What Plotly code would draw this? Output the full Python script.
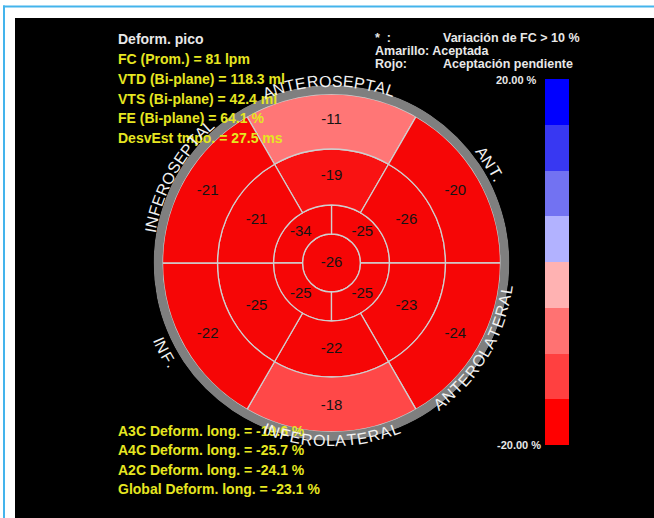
import math
import plotly.graph_objects as go

W, H = 654, 518
CX, CY = 331.5, 263.0          # bullseye centre (px)

# ---------------- data ----------------
apex_value = -26
apical_theta = [45, 135, 225, 315]
apical_values = [-25, -34, -25, -25]
ring_theta = [90, 30, 330, 270, 210, 150]
mid_values = [-19, -26, -23, -22, -25, -21]
basal_values = [-11, -20, -24, -18, -22, -21]

wall_names = ["ANTEROSEPTAL", "ANT.", "ANTEROLATERAL", "INFEROLATERAL", "INF.", "INFEROSEPTAL"]
wall_angles = [90.8, 32.0, -30.6, 270.0, 208.0, 150.4]
wall_upper = [True, True, False, False, False, True]

info_title = "Deform. pico"
info_lines = ["FC (Prom.) = 81 lpm", "VTD (Bi-plane) = 118.3 ml", "VTS (Bi-plane) = 42.4 ml",
              "FE (Bi-plane) = 64.1 %", "DesvEst tmpo. = 27.5 ms"]
strain_lines = ["A3C Deform. long. = -19.6 %", "A4C Deform. long. = -25.7 %",
                "A2C Deform. long. = -24.1 %", "Global Deform. long. = -23.1 %"]
legend_keys = ["*  :", "Amarillo: Aceptada", "Rojo:"]
legend_values = ["Variación de FC > 10 %", "", "Aceptación pendiente"]

scale_min, scale_max = -20, 20
scale_labels = ["20.00 %", "-20.00 %"]
scale_colors = ["#ff0000", "#ff4040", "#ff7272", "#ffb2b2",
                "#b2b2ff", "#7272f2", "#3838f2", "#0000ff"]

# ---------------- geometry / style ----------------
R_APEX, R_APICAL, R_MID, R_BASAL, R_RING = 29, 58, 114, 169, 178
wall_radius = [182, 187, 177, 178, 189, 184]
FONT = "Liberation Sans, Arial, sans-serif"
YELLOW = "#e6e620"
WHITE = "#e8e8e8"


def px(x):
    return x / W


def py(y):
    return 1 - y / H


# discrete colorscale for the colour bar
n = len(scale_colors)
disc_scale = []
for i, c in enumerate(scale_colors):
    disc_scale.append([i / n, c])
    disc_scale.append([(i + 1) / n, c])

# smooth scale for the segments
seg_scale = [[0.0, "rgb(246,6,6)"], [0.025, "rgb(249,18,18)"], [0.05, "rgb(255,72,72)"],
             [0.225, "rgb(255,118,118)"], [0.5, "rgb(255,200,200)"], [0.55, "rgb(200,200,255)"],
             [1.0, "rgb(0,0,255)"]]

seg_theta = [0] + apical_theta + ring_theta + ring_theta
seg_width = [360] + [90] * len(apical_theta) + [60] * (2 * len(ring_theta))
seg_base = [0] + [R_APEX] * len(apical_theta) + [R_APICAL] * len(ring_theta) + [R_MID] * len(ring_theta)
seg_len = ([R_APEX] + [R_APICAL - R_APEX] * len(apical_theta)
           + [R_MID - R_APICAL] * len(ring_theta) + [R_BASAL - R_MID] * len(ring_theta))
seg_vals = [apex_value] + apical_values + mid_values + basal_values
lab_r = [0] + [43.5] * len(apical_theta) + [86.5] * len(ring_theta) + [143] * len(ring_theta)

fig = go.Figure()
fig.add_trace(go.Barpolar(
    theta=seg_theta, r=seg_len, base=seg_base, width=seg_width,
    marker=dict(color=seg_vals, coloraxis="coloraxis",
                line=dict(color="#cfcfcf", width=1.3)),
    hoverinfo="skip", showlegend=False))
fig.add_trace(go.Barpolar(
    theta=[0], r=[R_RING - R_BASAL], base=[R_BASAL], width=[360],
    marker=dict(color="#7f7f7f", line=dict(width=0)),
    hoverinfo="skip", showlegend=False))
fig.add_trace(go.Scatterpolar(
    theta=seg_theta, r=lab_r, mode="text", text=[str(v) for v in seg_vals],
    textfont=dict(family=FONT, size=15, color="#141414"),
    hoverinfo="skip", showlegend=False))
# hidden carrier for the colour bar
fig.add_trace(go.Scatterpolar(
    theta=[0, 0], r=[0, 0], mode="markers",
    marker=dict(color=[scale_min, scale_max], coloraxis="coloraxis2", opacity=0, size=1),
    hoverinfo="skip", showlegend=False))

annotations = []


def ann(x, y, text, size, color, xanchor="left", bold=True, angle=0):
    annotations.append(dict(
        x=px(x), y=py(y), xref="paper", yref="paper", text=("<b>%s</b>" % text) if bold else text,
        showarrow=False, xanchor=xanchor, yanchor="middle", textangle=angle,
        font=dict(family=FONT, size=size, color=color)))


ann(116, 39, info_title, 14, WHITE)
for i, t in enumerate(info_lines):
    ann(116, 59 + 19.8 * i, t, 14, YELLOW)
for i, t in enumerate(strain_lines):
    ann(116, 431 + 19.3 * i, t, 14, YELLOW)
for i, t in enumerate(legend_keys):
    ann(373, 38 + 13 * i, t, 12.5, WHITE)
for i, t in enumerate(legend_values):
    if t:
        ann(441, 38 + 13 * i, t, 12.5, WHITE)
ann(539, 80, scale_labels[0], 11, WHITE, xanchor="right")
ann(543, 445, scale_labels[1], 11, WHITE, xanchor="right")

# curved wall names, letter by letter
ARIAL_W = {"A": 667, "N": 722, "T": 611, "E": 667, "R": 722, "O": 778, "S": 667,
           "P": 667, "L": 556, "I": 278, "F": 611, ".": 278}
WALL_SIZE = 16
SPACING = 0.6
for name, ang, rr, upper in zip(wall_names, wall_angles, wall_radius, wall_upper):
    widths = [ARIAL_W[c] * WALL_SIZE / 1000 for c in name]
    total = sum(widths) + SPACING * (len(name) - 1)
    cum = 0.0
    for c, w in zip(name, widths):
        s = cum + w / 2 - total / 2
        d = math.degrees(s / rr)
        th = ang - d if upper else ang + d
        x = CX + rr * math.cos(math.radians(th))
        y = CY - rr * math.sin(math.radians(th))
        rot = (90 - th) if upper else (270 - th)
        rot = (rot + 180) % 360 - 180
        ann(x, y, c, WALL_SIZE, "#f2f2f2", xanchor="center", bold=False, angle=rot)
        cum += w + SPACING

shapes = [
    dict(type="rect", xref="paper", yref="paper", x0=px(15), x1=1.0, y0=0.0, y1=py(18),
         fillcolor="black", line=dict(width=0), layer="below"),
    dict(type="line", xref="paper", yref="paper", x0=px(4), x1=px(4), y0=0.0, y1=py(5.5),
         line=dict(color="#44b4ec", width=2), layer="below"),
    dict(type="line", xref="paper", yref="paper", x0=px(3), x1=1.0, y0=py(6.5), y1=py(6.5),
         line=dict(color="#44b4ec", width=2), layer="below"),
]

fig.update_layout(
    width=W, height=H, margin=dict(l=0, r=0, t=0, b=0),
    paper_bgcolor="white", plot_bgcolor="rgba(0,0,0,0)",
    showlegend=False,
    polar=dict(
        domain=dict(x=[px(CX - R_RING), px(CX + R_RING)], y=[py(CY + R_RING), py(CY - R_RING)]),
        bgcolor="rgba(0,0,0,0)", barmode="overlay",
        radialaxis=dict(visible=False, range=[0, R_RING]),
        angularaxis=dict(visible=False, direction="counterclockwise", rotation=0),
    ),
    coloraxis=dict(cmin=scale_min, cmax=scale_max, colorscale=seg_scale, showscale=False),
    coloraxis2=dict(cmin=scale_min, cmax=scale_max, colorscale=disc_scale, showscale=True,
                    colorbar=dict(x=px(545), xanchor="left", xpad=0, y=py(262), yanchor="middle",
                                  ypad=0, len=366, lenmode="pixels", thickness=24,
                                  thicknessmode="pixels", outlinewidth=0, showticklabels=False,
                                  ticks="")),
    annotations=annotations, shapes=shapes,
)

fig.write_html("out.html")
